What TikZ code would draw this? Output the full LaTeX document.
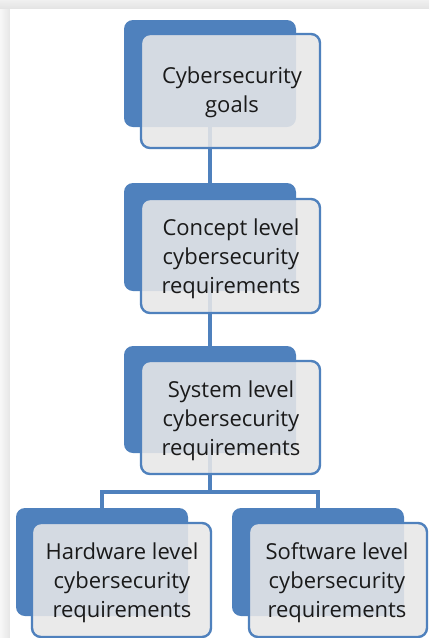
\documentclass[tikz,border=0pt]{standalone}
\usepackage{fontspec}
\setmainfont{Open Sans}
\definecolor{accent}{HTML}{4F81BD}
\definecolor{panel}{HTML}{E8E8E8}
\definecolor{txt}{HTML}{1A1A1A}
\begin{document}
\begin{tikzpicture}[x=1pt,y=-1pt,
  backbox/.style={fill=accent,draw=none,rounded corners=9pt},
  frontbox/.style={fill=panel,fill opacity=0.87,draw=accent,line width=2.4pt,
    rounded corners=9pt,text opacity=1},
  label/.style={align=center,text=txt,font=\fontsize{22}{29}\selectfont},
  link/.style={draw=accent,line width=3.4pt}]
\useasboundingbox (0,0) rectangle (429,638);
% page with soft shadow on top and left
\fill[white] (0,0) rectangle (429,638);
\shade[top color=gray!12,bottom color=gray!22] (0,0) rectangle (429,9);
\shade[left color=gray!6,right color=gray!20] (0,9) rectangle (10,638);
\fill[white] (10,9) rectangle (429,638);

% connectors (drawn behind the boxes)
\coordinate (c1) at (210,80);
\coordinate (c2) at (210,240);
\coordinate (c3) at (210,400);
\coordinate (fork) at (210,492);
\coordinate (hw) at (102,560);
\coordinate (sw) at (318,560);
\draw[link] (c1) -- (c2);
\draw[link] (c2) -- (c3);
\draw[link] (c3) -- (fork);
\draw[link] (hw) |- (fork) -| (sw);

% back tiles
\fill[backbox] (124,20) rectangle (296,127);
\fill[backbox] (124,183) rectangle (296,291);
\fill[backbox] (124,346) rectangle (296,453);
\fill[backbox] (16,508) rectangle (188,616);
\fill[backbox] (232,508) rectangle (404,616);

% front panels
\draw[frontbox] (141,34) rectangle (320,148);
\draw[frontbox] (141,199) rectangle (320,313);
\draw[frontbox] (141,361) rectangle (320,474);
\draw[frontbox] (32,523) rectangle (211,637);
\draw[frontbox] (249,523) rectangle (427,637);

% labels
\node[label] (goals) at (232,92) {Cybersecurity\\goals};
\node[label] (concept) at (231,258.5) {Concept level\\cybersecurity\\requirements};
\node[label] (system) at (231,420.5) {System level\\cybersecurity\\requirements};
\node[label] (hardware) at (122,582.5) {Hardware level\\cybersecurity\\requirements};
\node[label] (software) at (337,582.5) {Software level\\cybersecurity\\requirements};
\end{tikzpicture}
\end{document}
